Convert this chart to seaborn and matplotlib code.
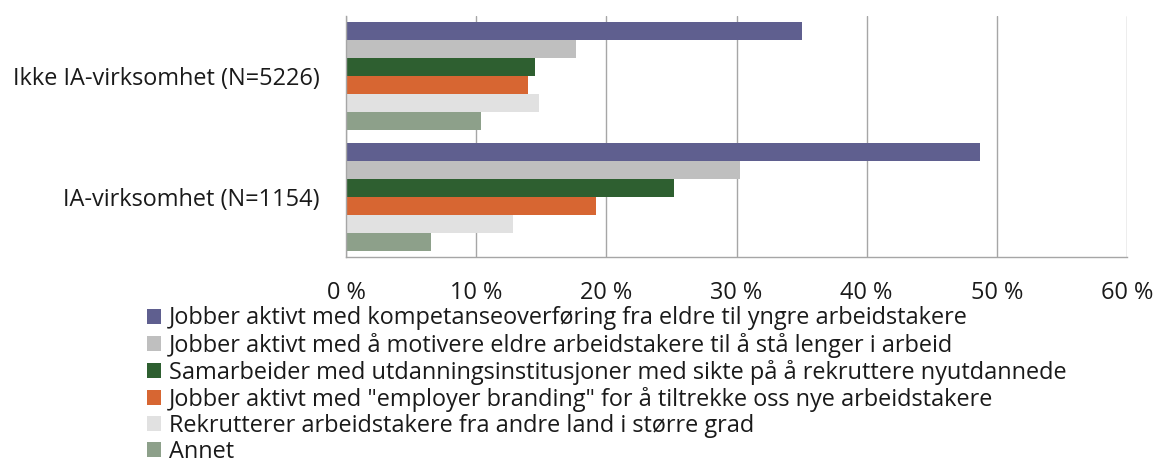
import matplotlib
matplotlib.use("Agg")
import matplotlib.pyplot as plt
import seaborn as sns
import pandas as pd

groups = ["Ikke IA-virksomhet (N=5226)", "IA-virksomhet (N=1154)"]
series = [
    "Jobber aktivt med kompetanseoverføring fra eldre til yngre arbeidstakere",
    "Jobber aktivt med å motivere eldre arbeidstakere til å stå lenger i arbeid",
    "Samarbeider med utdanningsinstitusjoner med sikte på å rekruttere nyutdannede",
    "Jobber aktivt med \"employer branding\" for å tiltrekke oss nye arbeidstakere",
    "Rekrutterer arbeidstakere fra andre land i større grad",
    "Annet",
]
ikke_ia = [35.0, 17.7, 14.5, 14.0, 14.8, 10.4]
ia = [48.7, 30.3, 25.2, 19.2, 12.8, 6.5]
colors = ["#5F5F8F", "#BFBFBF", "#2E5F30", "#D76632", "#E1E1E1", "#8DA08A"]
xticks = [0, 10, 20, 30, 40, 50, 60]

rows = []
for s, a, b in zip(series, ikke_ia, ia):
    rows.append({"gruppe": groups[0], "tiltak": s, "andel": a})
    rows.append({"gruppe": groups[1], "tiltak": s, "andel": b})
df = pd.DataFrame(rows)

sns.set_theme(style="white")
plt.rcParams["font.family"] = ["Open Sans", "DejaVu Sans"]

FS = 16.9
fig = plt.figure(figsize=(11.53, 4.68), dpi=100)
ax = fig.add_axes([346 / 1153, 1 - 257 / 468, (1127 - 346) / 1153, (257 - 16) / 468])

sns.barplot(data=df, y="gruppe", x="andel", hue="tiltak", order=groups,
            hue_order=series, palette=colors, orient="h", width=0.9, gap=0,
            dodge=True, saturation=1, linewidth=0, ax=ax, legend=True)

ax.set_xlim(0, 60)
ax.set_ylim(1.5, -0.5)
ax.set_xticks(xticks)
ax.set_xticklabels([f"{t} %" for t in xticks], fontsize=FS, color="#1a1a1a")
ax.tick_params(axis="x", pad=17, length=0)
ax.tick_params(axis="y", pad=19, length=0, labelsize=FS, labelcolor="#1a1a1a")
ax.set_xlabel("")
ax.set_ylabel("")
ax.grid(axis="x", color="#A6A6A6", linewidth=1.0)
ax.set_axisbelow(True)
for side in ["top", "right"]:
    ax.spines[side].set_visible(False)
for side in ["left", "bottom"]:
    ax.spines[side].set_color("#A6A6A6")
    ax.spines[side].set_linewidth(1.0)

handles, labels = ax.get_legend_handles_labels()
ax.get_legend().remove()
fig.legend(handles, labels, loc="upper left", bbox_to_anchor=(138 / 1153, 1 - 297 / 468),
           frameon=False, fontsize=FS, handlelength=0.6, handleheight=0.6,
           handletextpad=0.3, labelspacing=0.09, borderaxespad=0, labelcolor="#1a1a1a")

fig.savefig("out.png", dpi=100)
